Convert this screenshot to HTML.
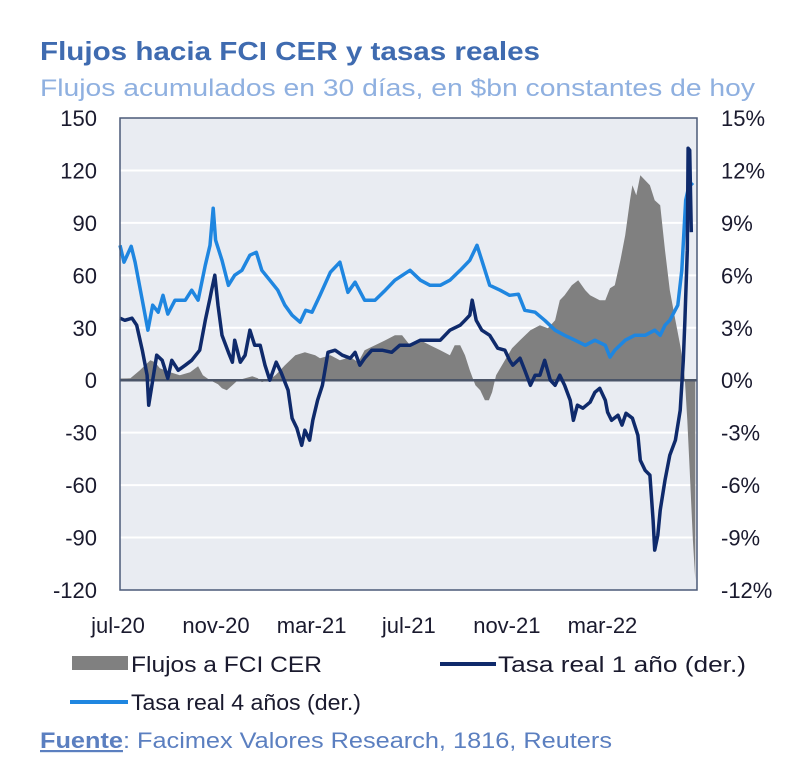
<!DOCTYPE html>
<html><head><meta charset="utf-8"><style>
html,body{margin:0;padding:0;background:#fff;}
svg{display:block;font-family:"Liberation Sans",Arial,sans-serif;}
</style></head><body>
<svg id="chart" width="800" height="776" viewBox="0 0 800 776">
<text x="40" y="60" font-size="26" font-weight="bold" fill="#3f6bb0" textLength="500" lengthAdjust="spacingAndGlyphs">Flujos hacia FCI CER y tasas reales</text>
<text x="40" y="96" font-size="24" fill="#8fb0e0" textLength="715" lengthAdjust="spacingAndGlyphs">Flujos acumulados en 30 días, en $bn constantes de hoy</text>
<rect x="120" y="118" width="577" height="472" fill="#e9ecf2"/>
<g id="grid"></g>
<g id="marks"></g>
<rect x="120" y="118" width="577" height="472" fill="none" stroke="#4b5a78" stroke-width="1.5"/>
<g id="axes"></g>
<g>
<g><rect x="72" y="656" width="56" height="14" fill="#808080"/><text x="131" y="672" font-size="22" fill="#1a1a2e" textLength="191" lengthAdjust="spacingAndGlyphs">Flujos a FCI CER</text></g>
<g><line x1="440" y1="664" x2="496" y2="664" stroke="#0f2a6b" stroke-width="4"/><text x="498" y="672" font-size="22" fill="#1a1a2e" textLength="248" lengthAdjust="spacingAndGlyphs">Tasa real 1 año (der.)</text></g>
<g><line x1="70" y1="702" x2="128" y2="702" stroke="#1f86e0" stroke-width="4"/><text x="131" y="710" font-size="22" fill="#1a1a2e" textLength="230" lengthAdjust="spacingAndGlyphs">Tasa real 4 años (der.)</text></g>
</g>
<text x="40" y="748" font-size="22" fill="#5b7fc0" textLength="572" lengthAdjust="spacingAndGlyphs"><tspan font-weight="bold" text-decoration="underline">Fuente</tspan>: Facimex Valores Research, 1816, Reuters</text>
</svg>
<script>
const leftTicks=[150,120,90,60,30,0,-30,-60,-90,-120];
const rightTicks=[15,12,9,6,3,0,-3,-6,-9,-12];
const xTickLabels=["jul-20","nov-20","mar-21","jul-21","nov-21","mar-22"];
const xTickDays=[0,123,243,365,488,608];
const flowDays=[0,13,25,38,44,50,63,75,88,98,104,113,123,128,134,141,148,157,166,173,178,186,195,207,220,232,245,251,264,276,289,299,307,320,333,345,354,364,377,389,402,414,420,427,433,439,446,452,458,463,467,472,483,492,502,515,527,537,546,552,558,567,575,584,590,602,609,615,621,628,634,640,643,648,653,659,665,671,678,684,690,697,703,707,709,712,715,719,722];
const flowVals=[1,1.1,5.7,11.4,10.3,6.9,4.6,2.9,4.6,8,2.9,0,-2.3,-4.6,-5.7,-2.9,0,1.1,2.3,1.1,-1.1,0,2.9,8.6,14.3,16,14.3,12.6,14.3,11.4,13.2,10.3,17.2,20,22.9,25.7,25.7,20,22.9,20,17.2,14.3,20,20,14.3,5.7,-2.9,-5.7,-11.4,-11.4,-6.9,2.9,11.4,18.3,22.9,28.6,31.5,29.7,34.3,45.8,48.6,54.3,57.2,51.5,48.6,45.8,45.8,52.6,54.3,68.6,82.9,103,111.5,105.8,117.3,114.4,111.5,103,100.1,74.4,51.5,34.3,20,8.6,0,-22.9,-51.5,-91.5,-114.4];
const r4Days=[0,5,14,19,28,35,41,48,54,60,69,82,90,98,107,113,117,120,128,136,144,153,163,171,178,188,198,207,216,226,233,241,251,264,276,286,295,307,320,333,345,364,377,389,402,414,427,439,448,454,464,477,489,500,508,521,533,546,558,571,584,596,609,615,621,634,646,659,671,678,684,690,700,705,710,715,719];
const r4Vals=[7.72,6.75,7.66,6.75,4.58,2.86,4.29,3.89,4.86,3.78,4.58,4.58,5.15,4.58,6.58,7.72,9.84,8.01,6.86,5.43,6.01,6.29,7.15,7.32,6.29,5.72,5.15,4.29,3.72,3.32,4.0,3.89,4.86,6.18,6.75,5.03,5.61,4.58,4.58,5.15,5.72,6.29,5.72,5.43,5.43,5.72,6.29,6.86,7.72,6.86,5.43,5.15,4.86,4.92,4.0,3.89,3.43,2.86,2.57,2.29,2.0,2.29,2.0,1.32,1.72,2.29,2.57,2.57,2.86,2.57,3.15,3.43,4.29,6.29,10.3,11.33,11.15];
const r1Days=[0,6,15,21,28,34,36,40,46,53,60,65,73,82,90,100,107,113,115,119,123,128,136,141,144,151,157,163,169,176,182,188,196,202,211,216,222,228,232,238,242,248,254,261,270,279,289,295,301,307,316,329,341,351,364,377,389,402,414,427,433,439,442,447,454,464,474,483,489,493,502,508,515,521,527,533,540,546,552,558,565,569,574,581,590,596,602,609,612,617,625,630,635,643,650,653,659,665,669,671,675,678,684,690,697,703,707,709,712,713,715,717];
const r1Vals=[3.55,3.43,3.55,3.15,1.72,0.29,-1.43,-0.29,1.43,1.14,0.11,1.14,0.57,0.86,1.14,1.72,3.43,4.69,5.15,6.01,4.29,2.57,1.6,1.03,2.29,1.03,1.43,2.86,2.0,2.0,0.86,0,1.03,0.46,-0.57,-2.17,-2.75,-3.72,-2.86,-3.43,-2.29,-1.14,-0.29,1.6,1.72,1.43,1.26,1.6,0.86,1.26,1.72,1.72,1.6,2.0,2.0,2.29,2.29,2.29,2.86,3.15,3.43,3.72,4.58,3.43,2.86,2.57,1.83,1.72,1.14,0.86,1.26,0.57,-0.29,0.29,0.29,1.14,0,-0.29,0.29,-0.29,-1.14,-2.29,-1.43,-1.6,-1.26,-0.69,-0.46,-1.14,-1.83,-2.29,-2.0,-2.57,-1.89,-2.17,-3.15,-4.58,-5.15,-5.43,-8.01,-9.72,-8.87,-7.44,-5.72,-4.29,-3.43,-1.72,1.14,3.43,7.44,13.27,13.16,8.47];

const NS="http://www.w3.org/2000/svg";
const X0=120,PXD=1/1.255,Y0=118,Y1=590;
const xs=d=>X0+d*PXD;
const yL=v=>Y0+(150-v)/270*(Y1-Y0);
const yR=v=>Y0+(15-v)/27*(Y1-Y0);
function mk(tag,attrs,parent){const e=document.createElementNS(NS,tag);for(const k in attrs)e.setAttribute(k,attrs[k]);parent.appendChild(e);return e;}
const grid=document.getElementById('grid'),marks=document.getElementById('marks'),axes=document.getElementById('axes');
leftTicks.forEach((t,i)=>{
  if(t!==0&&t!==150&&t!==-120){const g=mk('line',{x1:X0,x2:697,y1:yL(t),y2:yL(t),stroke:'#ffffff','stroke-width':2},grid);
  
  }
  const tl=mk('text',{x:97,y:yL(t)+8,'font-size':22,'text-anchor':'end',fill:'#1a1a2e'},axes);tl.textContent=t;
  
  
});
rightTicks.forEach(t=>{
  const tr=mk('text',{x:721,y:yR(t)+8,'font-size':22,fill:'#1a1a2e'},axes);tr.textContent=t+'%';
  
  
});
xTickLabels.forEach((l,i)=>{
  const tx=mk('text',{x:xs(xTickDays[i])-2,y:633,'font-size':22,'text-anchor':'middle',fill:'#1a1a2e'},axes);tx.textContent=l;
  
  
});
let d='M'+xs(flowDays[0])+','+yL(0);
flowDays.forEach((dd,i)=>{d+=' L'+xs(dd).toFixed(1)+','+yL(flowVals[i]).toFixed(1);});
d+=' L'+xs(flowDays[flowDays.length-1])+','+yL(0)+' Z';
const area=mk('path',{d:d,fill:'#808080'},marks);


const zl=mk('line',{x1:X0,x2:697,y1:yL(0),y2:yL(0),stroke:'#4b5568','stroke-width':2.5},marks);


function line(days,vals,color,name){
  const p=days.map((dd,i)=>(i?'L':'M')+xs(dd).toFixed(1)+','+yR(vals[i]).toFixed(1)).join(' ');
  const e=mk('path',{d:p,fill:'none',stroke:color,'stroke-width':3.5,'stroke-linejoin':'round'},marks);
  
  
}
line(r4Days,r4Vals,'#1f86e0','tasa-4-anios-line');
line(r1Days,r1Vals,'#0f2a6b','tasa-1-anio-line');
</script>
</body></html>
